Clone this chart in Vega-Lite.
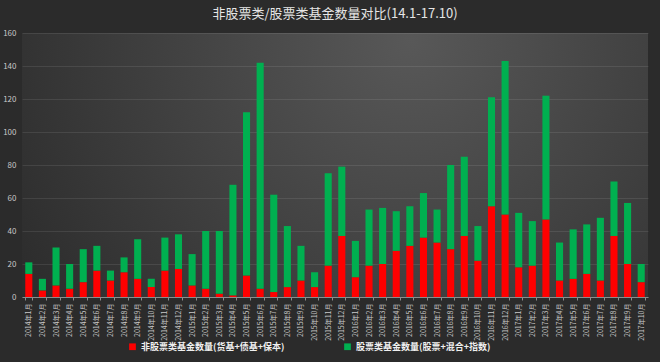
{
  "$schema": "https://vega.github.io/schema/vega-lite/v6.json",
  "width": 626,
  "height": 264,
  "autosize": "none",
  "padding": {"left": 22, "top": 33, "right": 12, "bottom": 65},
  "background": "#2b2b2b",
  "title": {
    "text": "非股票类/股票类基金数量对比(14.1-17.10)",
    "font": "Noto Sans CJK SC",
    "fontSize": 13,
    "fontWeight": "normal",
    "color": "#e6e6e6",
    "offset": 8
  },
  "config": {
    "view": {
      "stroke": null,
      "fill": {
        "gradient": "radial",
        "x1": 0.62, "y1": 0.3, "r1": 0,
        "x2": 0.62, "y2": 0.3, "r2": 0.75,
        "stops": [
          {"offset": 0, "color": "#585858"},
          {"offset": 1, "color": "#2b2b2b"}
        ]
      }
    },
    "font": "Noto Sans CJK SC"
  },
  "data": {
    "values": [
      {"m": "2014年1月", "non": 14, "eq": 7},
      {"m": "2014年2月", "non": 4, "eq": 7},
      {"m": "2014年3月", "non": 7, "eq": 23},
      {"m": "2014年4月", "non": 5, "eq": 15},
      {"m": "2014年5月", "non": 9, "eq": 20},
      {"m": "2014年6月", "non": 16, "eq": 15},
      {"m": "2014年7月", "non": 10, "eq": 6},
      {"m": "2014年8月", "non": 15, "eq": 9},
      {"m": "2014年9月", "non": 11, "eq": 24},
      {"m": "2014年10月", "non": 6, "eq": 5},
      {"m": "2014年11月", "non": 16, "eq": 20},
      {"m": "2014年12月", "non": 17, "eq": 21},
      {"m": "2015年1月", "non": 7, "eq": 19},
      {"m": "2015年2月", "non": 5, "eq": 35},
      {"m": "2015年3月", "non": 2, "eq": 38},
      {"m": "2015年4月", "non": 1, "eq": 67},
      {"m": "2015年5月", "non": 13, "eq": 99},
      {"m": "2015年6月", "non": 5, "eq": 137},
      {"m": "2015年7月", "non": 3, "eq": 59},
      {"m": "2015年8月", "non": 6, "eq": 37},
      {"m": "2015年9月", "non": 10, "eq": 21},
      {"m": "2015年10月", "non": 6, "eq": 9},
      {"m": "2015年11月", "non": 19, "eq": 56},
      {"m": "2015年12月", "non": 37, "eq": 42},
      {"m": "2016年1月", "non": 12, "eq": 22},
      {"m": "2016年2月", "non": 19, "eq": 34},
      {"m": "2016年3月", "non": 20, "eq": 34},
      {"m": "2016年4月", "non": 28, "eq": 24},
      {"m": "2016年5月", "non": 31, "eq": 24},
      {"m": "2016年6月", "non": 36, "eq": 27},
      {"m": "2016年7月", "non": 33, "eq": 20},
      {"m": "2016年8月", "non": 29, "eq": 51},
      {"m": "2016年9月", "non": 37, "eq": 48},
      {"m": "2016年10月", "non": 22, "eq": 21},
      {"m": "2016年11月", "non": 55, "eq": 66},
      {"m": "2016年12月", "non": 50, "eq": 93},
      {"m": "2017年1月", "non": 18, "eq": 33},
      {"m": "2017年2月", "non": 19, "eq": 27},
      {"m": "2017年3月", "non": 47, "eq": 75},
      {"m": "2017年4月", "non": 10, "eq": 23},
      {"m": "2017年5月", "non": 11, "eq": 30},
      {"m": "2017年6月", "non": 14, "eq": 30},
      {"m": "2017年7月", "non": 10, "eq": 38},
      {"m": "2017年8月", "non": 37, "eq": 33},
      {"m": "2017年9月", "non": 20, "eq": 37},
      {"m": "2017年10月", "non": 9, "eq": 11}
    ]
  },
  "transform": [
    {"fold": ["non", "eq"], "as": ["key", "value"]}
  ],
  "mark": {"type": "bar"},
  "encoding": {
    "x": {
      "field": "m",
      "type": "nominal",
      "sort": null,
      "scale": {"paddingInner": 0.48, "paddingOuter": 0.24},
      "axis": {
        "title": null,
        "labelAngle": -90,
        "labelFontSize": 7,
        "labelColor": "#c8c8c8",
        "labelPadding": 3,
        "domainColor": "#8c8c8c",
        "tickColor": "#8c8c8c",
        "tickSize": 3,
        "tickBand": "extent"
      }
    },
    "y": {
      "field": "value",
      "type": "quantitative",
      "stack": "zero",
      "scale": {"domain": [0, 160]},
      "axis": {
        "title": null,
        "values": [0, 20, 40, 60, 80, 100, 120, 140, 160],
        "labelFontSize": 8,
        "labelColor": "#c8c8c8",
        "labelPadding": 6,
        "domain": false,
        "ticks": false,
        "gridColor": "#ffffff",
        "gridOpacity": 0.09
      }
    },
    "color": {
      "field": "key",
      "type": "nominal",
      "scale": {"domain": ["non", "eq"], "range": ["#ff0000", "#00b050"]},
      "legend": {
        "title": null,
        "orient": "none",
        "legendX": 106,
        "legendY": 309,
        "direction": "horizontal",
        "symbolType": "square",
        "symbolSize": 45,
        "symbolStrokeWidth": 0,
        "columnPadding": 58,
        "labelFontSize": 9,
        "labelFontWeight": "bold",
        "labelColor": "#f0f0f0",
        "labelLimit": 300,
        "labelExpr": "datum.value == 'non' ? '非股票类基金数量(货基+债基+保本)' : '股票类基金数量(股票+混合+指数)'"
      }
    },
    "order": {"field": "key", "sort": "descending"}
  }
}
